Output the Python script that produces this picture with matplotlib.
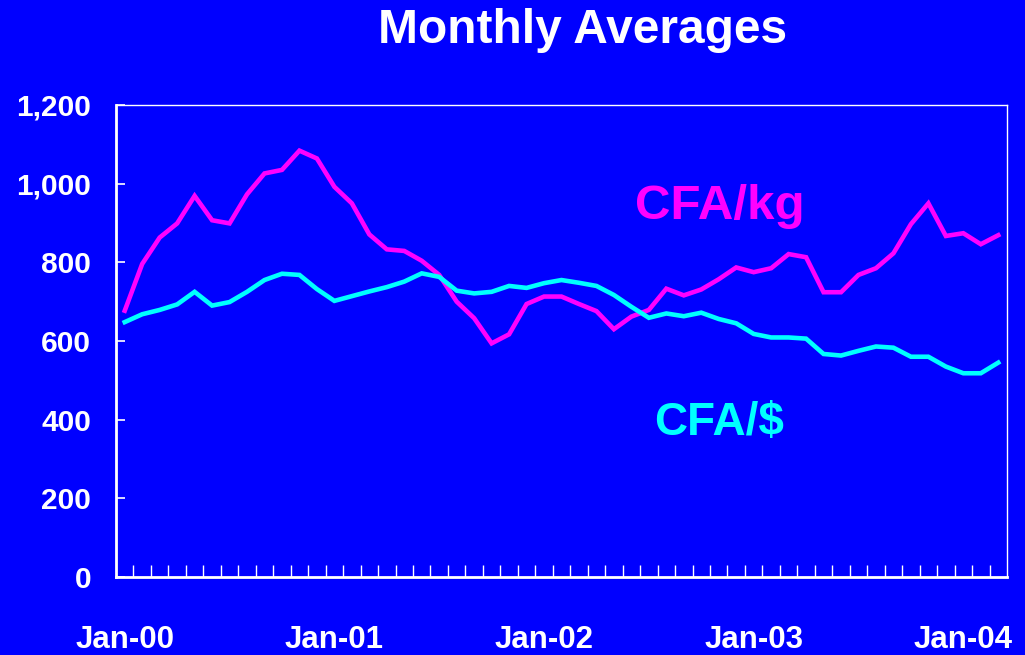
import matplotlib
matplotlib.use("Agg")
import matplotlib.pyplot as plt
from matplotlib.font_manager import FontProperties
from matplotlib.ticker import FixedLocator, FuncFormatter

# ---- data (Jan-00 .. Mar-04, monthly) ----
months = ["Jan-00", "Feb-00", "Mar-00", "Apr-00", "May-00", "Jun-00", "Jul-00", "Aug-00", "Sep-00", "Oct-00", "Nov-00", "Dec-00",
          "Jan-01", "Feb-01", "Mar-01", "Apr-01", "May-01", "Jun-01", "Jul-01", "Aug-01", "Sep-01", "Oct-01", "Nov-01", "Dec-01",
          "Jan-02", "Feb-02", "Mar-02", "Apr-02", "May-02", "Jun-02", "Jul-02", "Aug-02", "Sep-02", "Oct-02", "Nov-02", "Dec-02",
          "Jan-03", "Feb-03", "Mar-03", "Apr-03", "May-03", "Jun-03", "Jul-03", "Aug-03", "Sep-03", "Oct-03", "Nov-03", "Dec-03",
          "Jan-04", "Feb-04", "Mar-04"]
cfa_kg = [677, 796, 863, 899, 969, 907, 899, 973, 1026, 1035, 1084, 1064,
          992, 950, 871, 833, 829, 804, 768, 700, 658, 594, 617, 694,
          713, 713, 694, 676, 630, 662, 679, 733, 716, 731, 757, 787,
          775, 785, 821, 813, 724, 724, 768, 785, 823, 897, 950, 867,
          874, 846, 869]
cfa_usd = [648, 668, 679, 693, 725, 690, 699, 725, 755, 771, 768, 732,
           702, 714, 726, 737, 751, 772, 763, 728, 721, 725, 740, 735,
           747, 755, 748, 740, 717, 687, 659, 670, 663, 672, 656, 645,
           618, 609, 609, 606, 567, 563, 575, 586, 583, 560, 560, 535,
           518, 518, 545]
yticks = [0, 200, 400, 600, 800, 1000, 1200]
label_months = ["Jan-00", "Jan-01", "Jan-02", "Jan-03", "Jan-04"]

tick_fp = FontProperties(family="Liberation Sans", weight="bold")

BG = "#0000FF"
W, H = 1025, 655
fig = plt.figure(figsize=(W / 100, H / 100), dpi=100, facecolor=BG)
ax = fig.add_axes([116 / W, 1 - 577 / H, (1007 - 116) / W, (577 - 105) / H])
ax.set_facecolor(BG)

x = list(range(len(months)))
ax.plot(x, cfa_kg, color="#FF00FF", lw=3.3, solid_joinstyle="miter", zorder=3)
ax.plot(x, cfa_usd, color="#00FFFF", lw=3.3, solid_joinstyle="miter", zorder=3)

ax.set_xlim(-0.5, len(months) - 0.5)
ax.set_ylim(0, 1200)

for s in ["left", "bottom"]:
    ax.spines[s].set_color("white")
    ax.spines[s].set_linewidth(2.0)
for s in ["top", "right"]:
    ax.spines[s].set_color("white")
    ax.spines[s].set_linewidth(1.0)

# y axis
ax.set_yticks(yticks)
ax.yaxis.set_major_formatter(FuncFormatter(lambda v, p: f"{int(v):,}"))
ax.tick_params(axis="y", direction="in", length=6.5, width=1.2, color="white",
               labelcolor="white", pad=18)
for t in ax.get_yticklabels():
    t.set_fontproperties(tick_fp)
    t.set_fontsize(21.5)

# x axis
label_pos = [months.index(m) for m in label_months]
ax.xaxis.set_major_locator(FixedLocator(label_pos))
ax.set_xticklabels(label_months)
ax.xaxis.set_minor_locator(FixedLocator([i + 0.5 for i in range(len(months) - 1)]))
ax.tick_params(axis="x", which="major", length=0, labelcolor="white", pad=34.5)
ax.tick_params(axis="x", which="minor", direction="in", length=8.5, width=1.0, color="white")
for t in ax.get_xticklabels():
    t.set_fontproperties(tick_fp)
    t.set_fontsize(22.5)

# texts
fig.text(583 / W, 1 - 43 / H, "Monthly Averages", color="white", fontsize=34.5,
         fontweight="bold", family="Liberation Sans", ha="center", va="baseline")
fig.text(635 / W, 1 - 219 / H, "CFA/kg", color="#FF00FF", fontsize=35.5,
         fontweight="bold", family="Liberation Sans", ha="left", va="baseline")
fig.text(654 / W, 1 - 435 / H, "CFA/$", color="#00FFFF", fontsize=33,
         fontweight="bold", family="Liberation Sans", ha="left", va="baseline")

fig.savefig("out.png", dpi=100, facecolor=BG)
